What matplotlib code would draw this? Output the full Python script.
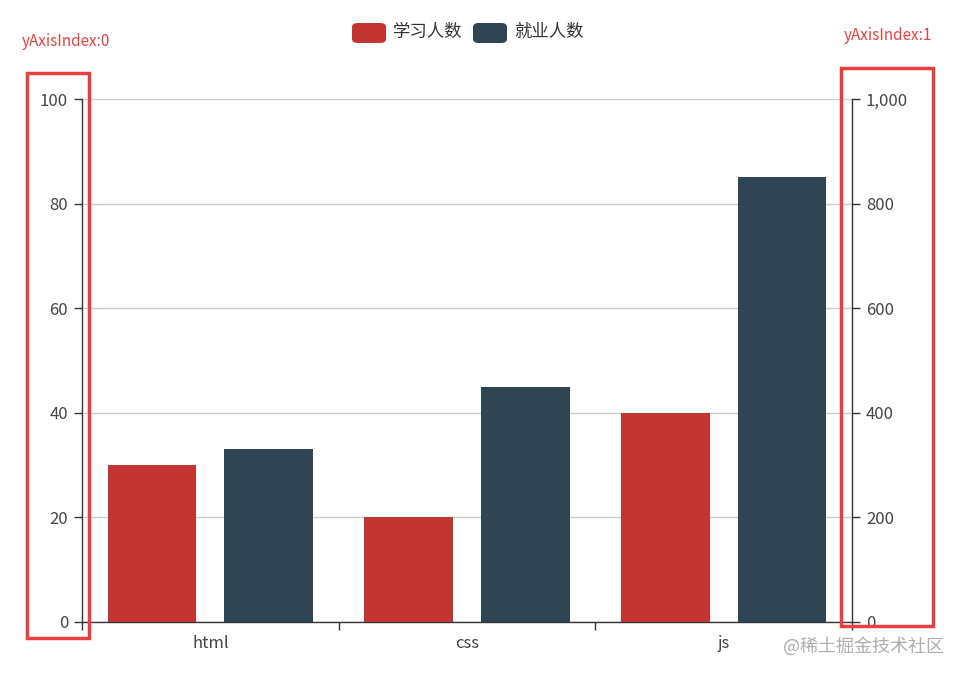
import matplotlib
matplotlib.use("Agg")
import matplotlib.pyplot as plt
from matplotlib.patches import Rectangle, FancyBboxPatch
from matplotlib.ticker import FuncFormatter
import numpy as np

plt.rcParams['font.family'] = ['Noto Sans CJK SC', 'DejaVu Sans']

categories = ["html", "css", "js"]
series_names = ["学习人数", "就业人数"]
study_counts = [30, 20, 40]
job_counts = [330, 450, 850]
colors = ["#c23531", "#2f4554"]
left_ticks = [0, 20, 40, 60, 80, 100]
right_ticks = [0, 200, 400, 600, 800, 1000]

W, H = 964, 676
fig = plt.figure(figsize=(W / 100, H / 100), dpi=100)

def fx(px):
    return px / W

def fy(py):
    return 1 - py / H

ax = fig.add_axes([fx(82), fy(622), fx(852) - fx(82), fy(99) - fy(622)])
ax2 = ax.twinx()

x = np.arange(len(categories))
bw = 0.345
off = 0.227
ax.bar(x - off, study_counts, width=bw, color=colors[0], zorder=3)
ax2.bar(x + off, job_counts, width=bw, color=colors[1], zorder=3)

ax.set_xlim(-0.5, 2.5)
ax.set_ylim(0, 100)
ax2.set_ylim(0, 1000)

axis_col = "#333333"
lab_col = "#444444"
fs = 12

ax.set_yticks(left_ticks)
ax.yaxis.grid(True, color="#cccccc", linewidth=1, zorder=0)
ax.set_axisbelow(True)
ax2.set_yticks(right_ticks)
ax2.yaxis.set_major_formatter(FuncFormatter(lambda v, p: f"{int(v):,}"))

ax.set_xticks([-0.5, 0.5, 1.5, 2.5])
ax.set_xticklabels([])
ax.set_xticks(x, minor=True)
ax.set_xticklabels(categories, minor=True)
ax.tick_params(axis='x', which='major', length=6, color=axis_col, width=1)
ax.tick_params(axis='x', which='minor', length=0, pad=9, labelsize=fs, labelcolor=lab_col)
ax.tick_params(axis='y', length=6, color=axis_col, width=1, pad=4, labelsize=fs, labelcolor=lab_col)
ax2.tick_params(axis='y', length=6, color=axis_col, width=1, pad=4, labelsize=fs, labelcolor=lab_col)

for a in (ax, ax2):
    a.spines['top'].set_visible(False)
    for s in ('left', 'right', 'bottom'):
        a.spines[s].set_color(axis_col)
        a.spines[s].set_linewidth(1)
ax.spines['right'].set_visible(False)
ax2.spines['left'].set_visible(False)
ax2.spines['bottom'].set_visible(False)

# legend (manual, rounded swatches)
leg_items = [(352, 393), (473, 514)]
for (sx, tx), name, col in zip(leg_items, series_names, colors):
    fig.patches.append(FancyBboxPatch((fx(sx), fy(43)), fx(34), fy(23) - fy(43),
                                      boxstyle="round,pad=0,rounding_size=0.006",
                                      transform=fig.transFigure, facecolor=col,
                                      edgecolor='none', figure=fig))
    fig.text(fx(tx), fy(32), name, fontsize=12.5, color="#333333", va='center', ha='left')

# annotation boxes
red = "#e8403f"
fig.patches.append(Rectangle((fx(27), fy(638)), fx(89) - fx(27), fy(73) - fy(638),
                             transform=fig.transFigure, fill=False, edgecolor=red,
                             linewidth=2.5, figure=fig, zorder=10))
fig.patches.append(Rectangle((fx(841), fy(626)), fx(933) - fx(841), fy(68) - fy(626),
                             transform=fig.transFigure, fill=False, edgecolor=red,
                             linewidth=2.5, figure=fig, zorder=10))
fig.text(fx(22), fy(42), "yAxisIndex:0", color=red, fontsize=11, va='center', ha='left')
fig.text(fx(844), fy(36), "yAxisIndex:1", color=red, fontsize=11, va='center', ha='left')

fig.text(fx(944), fy(646), "@稀土掘金技术社区", color="#999999", alpha=0.8, fontsize=13,
         va='center', ha='right')

fig.savefig("out.png", dpi=100)
